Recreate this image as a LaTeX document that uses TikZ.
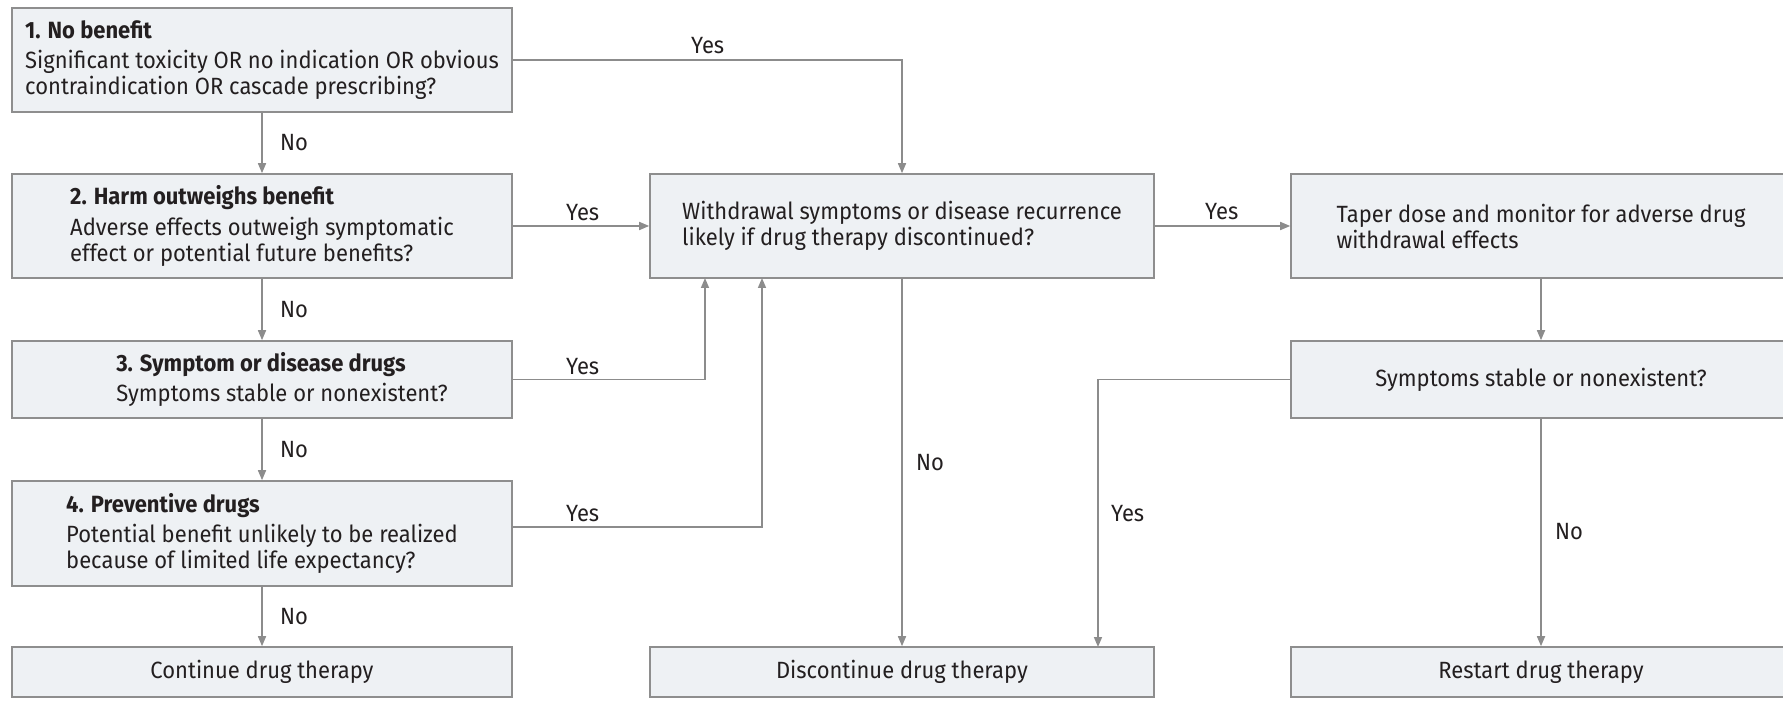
\documentclass[tikz,border=0pt]{standalone}
\usepackage{fontspec}
\setmainfont[FakeStretch=0.935]{Fira Sans}
\usetikzlibrary{arrows.meta}
\definecolor{boxfill}{HTML}{EEF1F4}
\definecolor{boxline}{HTML}{8E8E8E}
\definecolor{connc}{HTML}{8C8C8C}
\definecolor{txt}{HTML}{231F20}
\tikzset{
  flowbox/.style={draw=boxline, fill=boxfill, line width=1.6pt, align=left, text=txt,
    font=\fontsize{23.5}{26}\selectfont, inner sep=0pt},
  arrowline/.style={draw=connc, line width=1.6pt, -{Triangle[length=10pt,width=8pt]}},
  lbl/.style={text=txt, font=\fontsize{23.5}{26}\selectfont, inner sep=0pt, anchor=west},
}
\begin{document}
\begin{tikzpicture}[x=1pt,y=-1pt]
\path[use as bounding box] (0,0) rectangle (1783,727);
\clip (0,0) rectangle (1783,727);

% left column
\node[flowbox, minimum width=500pt, minimum height=104pt] (b1) at (262,60)
  {\textbf{1.\hspace{7pt}No benefit}\\[4.5pt]Significant toxicity OR no indication OR obvious\\contraindication OR cascade prescribing?};
\node[flowbox, minimum width=500pt, minimum height=104pt] (b2) at (262,226)
  {\textbf{2.\hspace{7pt}Harm outweighs benefit}\\[4.5pt]Adverse effects outweigh symptomatic\\effect or potential future benefits?};
\node[flowbox, minimum width=500pt, minimum height=77pt] (b3) at (262,379.5)
  {\hspace*{40pt}\textbf{3.\hspace{7pt}Symptom or disease drugs}\\[4.5pt]\hspace*{40pt}Symptoms stable or nonexistent?};
\node[flowbox, minimum width=500pt, minimum height=105pt] (b4) at (262,533.5)
  {\textbf{4.\hspace{7pt}Preventive drugs}\\[4.5pt]Potential benefit unlikely to be realized\\because of limited life expectancy?};
\node[flowbox, minimum width=500pt, minimum height=50pt] (cont) at (262,672)
  {Continue drug therapy};

% middle column
\node[flowbox, minimum width=504pt, minimum height=104pt] (mid) at (902,226)
  {Withdrawal symptoms or disease recurrence\\likely if drug therapy discontinued?};
\node[flowbox, minimum width=504pt, minimum height=50pt] (disc) at (902,672)
  {Discontinue drug therapy};

% right column
\node[flowbox, minimum width=500pt, minimum height=104pt] (taper) at (1541,226)
  {Taper dose and monitor for adverse drug\\withdrawal effects};
\node[flowbox, minimum width=500pt, minimum height=77pt] (symp) at (1541,379.5)
  {Symptoms stable or nonexistent?};
\node[flowbox, minimum width=500pt, minimum height=50pt] (restart) at (1541,672)
  {Restart drug therapy};

% helper coordinates
\coordinate (j1) at (902,60);
\coordinate (j3a) at (705,379.5);
\coordinate (j3b) at (705,278);
\coordinate (j4a) at (762,527);
\coordinate (j4b) at (762,278);
\coordinate (b4out) at (512,527);
\coordinate (j6a) at (1098,379.5);
\coordinate (j6b) at (1098,647);

% connectors
\draw[arrowline] (b1) -- (b2);
\draw[arrowline] (b2) -- (b3);
\draw[arrowline] (b3) -- (b4);
\draw[arrowline] (b4) -- (cont);
\draw[arrowline] (b1.east) -- (j1) -- (mid.north);
\draw[arrowline] (b2.east) -- (mid.west);
\draw[arrowline] (b3.east) -- (j3a) -- (j3b);
\draw[arrowline] (b4out) -- (j4a) -- (j4b);
\draw[arrowline] (mid.east) -- (taper.west);
\draw[arrowline] (mid.south) -- (disc.north);
\draw[arrowline] (taper.south) -- (symp.north);
\draw[arrowline] (symp.west) -- (j6a) -- (j6b);
\draw[arrowline] (symp.south) -- (restart.north);

% labels
\node[lbl] (l1) at (280,143) {No};
\node[lbl] (l2) at (280,309.5) {No};
\node[lbl] (l3) at (280,449.5) {No};
\node[lbl] (l4) at (280,616.5) {No};
\node[lbl] (y1) at (691,46) {Yes};
\node[lbl] (y2) at (566,213) {Yes};
\node[lbl] (y3) at (566,366.5) {Yes};
\node[lbl] (y4) at (566,513.5) {Yes};
\node[lbl] (y5) at (1205,212) {Yes};
\node[lbl] (l5) at (916,463) {No};
\node[lbl] (y6) at (1111,514) {Yes};
\node[lbl] (l6) at (1555,532) {No};
\end{tikzpicture}
\end{document}
